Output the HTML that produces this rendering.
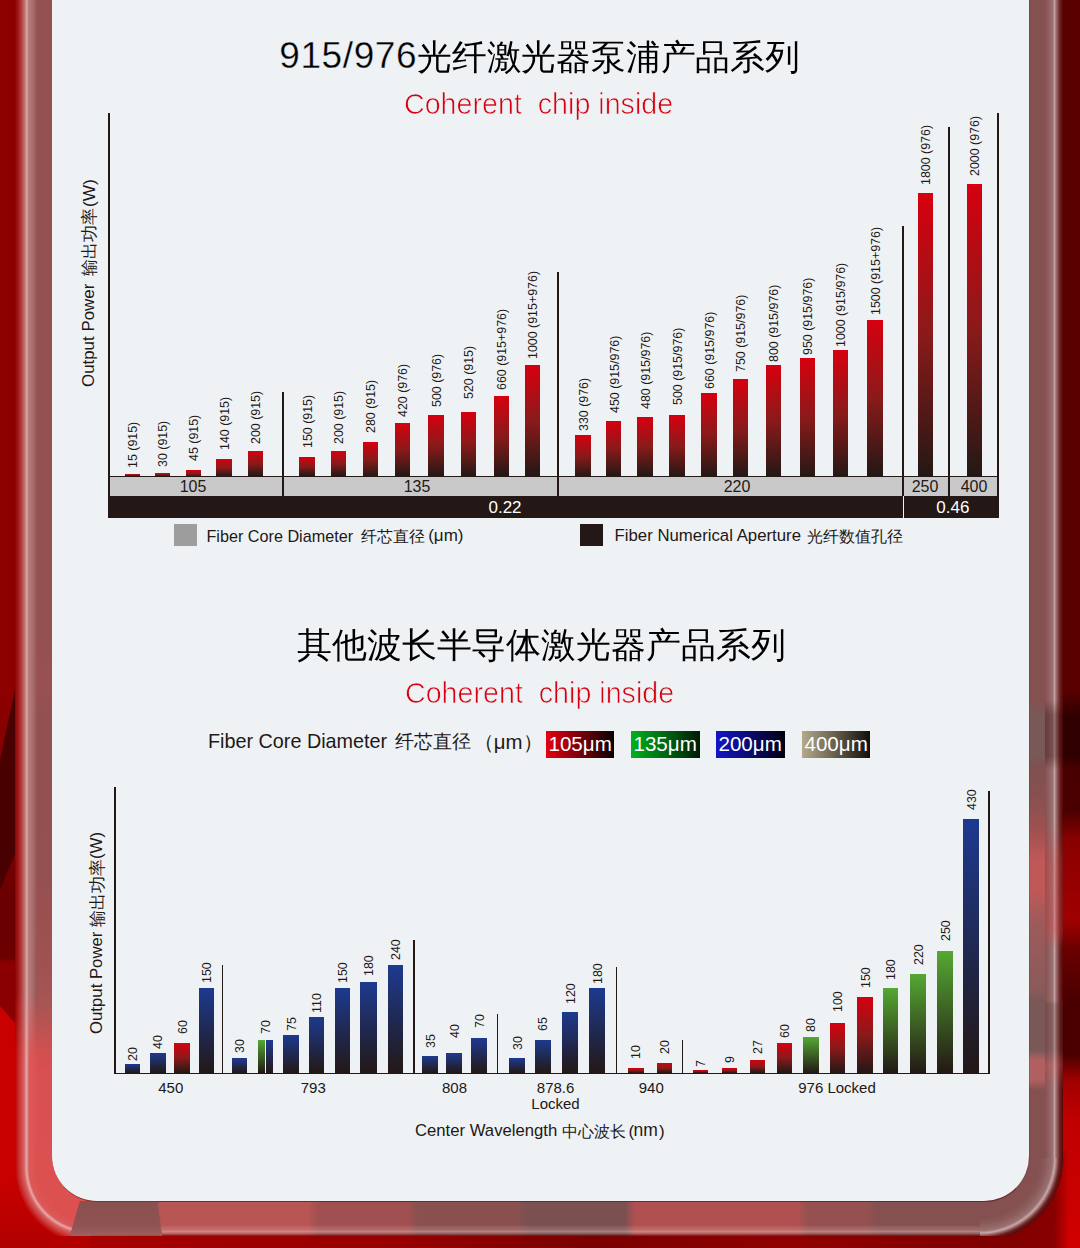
<!DOCTYPE html><html><head><meta charset="utf-8"><style>html,body{margin:0;padding:0;}body{width:1080px;height:1248px;overflow:hidden;position:relative;background:#900000;font-family:"Liberation Sans", sans-serif;}div{position:absolute;box-sizing:border-box;}.t{white-space:nowrap;}</style></head><body>
<div style="left:0;top:0;width:97px;height:1248px;background:linear-gradient(to bottom,#8c0000 0px,#8c0000 690px,#7a0000 850px,#6a0000 900px,#6a0000 958px,#8a0000 962px,#8a0000 1248px);"></div>
<div style="left:0;top:690px;width:18px;height:200px;background:#480000;clip-path:polygon(15px 0,18px 0,18px 157px,0 200px,0 70px);"></div>
<div style="left:0;top:982px;width:97px;height:266px;background:linear-gradient(to bottom,#c80000 0,#c80000 200px,#b00000 266px);clip-path:polygon(0 24px,52px 83px,97px 83px,97px 266px,0 266px);"></div>
<div style="left:979px;top:0;width:101px;height:1248px;background:linear-gradient(to bottom,#5a0000 0px,#5a0000 690px,#300000 715px,#300000 756px,#4a0000 770px,#4a0000 810px,#8a0000 840px,#a00000 920px,#6a0000 950px,#4a0000 1000px,#4a0000 1055px,#a00000 1080px,#c00000 1120px,#d00000 1248px);"></div>
<div style="left:979px;top:1150px;width:101px;height:98px;background:linear-gradient(to right,rgba(90,0,0,0.7) 0,rgba(90,0,0,0.6) 75px,rgba(90,0,0,0) 90px);"></div>
<div style="left:90px;top:1228px;width:890px;height:20px;background:linear-gradient(to right,#a80000 0px,#a00000 100px,#980000 300px,#7a0000 500px,#900000 700px,#800000 890px);"></div>
<div style="left:15px;top:0;width:22px;height:1167.5px;background:linear-gradient(to right,#900000 0,#a01818 3px,#b04848 7px,#c87878 10px,#d8a8a8 11.7px,#b88080 13.5px,#a86a6a 18px,#9a5a5a 21px,#955050 22px);"></div>
<div style="left:15px;top:990px;width:22px;height:177.5px;-webkit-mask-image:linear-gradient(to bottom,transparent 0,#000 70px);mask-image:linear-gradient(to bottom,transparent 0,#000 70px);background:linear-gradient(to right,#c00000 0,#c83030 4px,#d86060 9px,#e8a8a8 11.7px,#dc5a5a 14px,#dc5050 22px);"></div>
<div style="left:37px;top:0;width:15.5px;height:1167.5px;background:linear-gradient(to bottom,#955050 0,#955050 640px,#9a5050 680px,#935050 720px,#955050 880px,#9a5050 900px,#a05252 970px,#a85555 1005px,#d05050 1050px,#d85050 1070px,#dc5050 1167.5px);"></div>
<div style="left:1028.5px;top:0;width:17px;height:1157.5px;background:linear-gradient(to bottom,#855050 0,#855050 700px,#7a5858 715px,#7a5858 756px,#805050 765px,#855050 790px,#a05050 830px,#c05858 860px,#c05858 890px,#a05a5a 920px,#8a5a5a 990px,#7a5858 1000px,#7a5858 1050px,#b06060 1060px,#b06060 1080px,#855050 1090px,#855050 1157.5px);"></div>
<div style="left:1045px;top:0;width:17.5px;height:1157.5px;background:linear-gradient(to right,#855050 0,#9a7070 7.5px,#c0a0a0 9.5px,#9a6868 11.5px,#6a2020 15px,#5a0a0a 17.5px);"></div>
<div style="left:1045px;top:700px;width:17.5px;height:400px;background:linear-gradient(to bottom,rgba(0,0,0,0) 0,rgba(40,0,0,0.3) 15px,rgba(40,0,0,0.3) 56px,rgba(0,0,0,0) 70px,rgba(0,0,0,0) 120px,rgba(230,60,60,0.25) 160px,rgba(230,60,60,0.3) 230px,rgba(0,0,0,0) 250px,rgba(0,0,0,0) 300px,rgba(60,40,40,0.2) 305px,rgba(60,40,40,0.2) 350px,rgba(230,90,90,0.25) 365px,rgba(0,0,0,0) 390px);"></div>
<div style="left:90.7px;top:1201px;width:889.8px;height:34.5px;background:linear-gradient(to bottom,rgba(0,0,0,0) 0,rgba(0,0,0,0) 24px,rgba(255,200,200,0.12) 26px,rgba(255,210,210,0.2) 29px,rgba(255,225,225,0.35) 30.5px,rgba(255,200,200,0.12) 32.5px,rgba(60,0,0,0.5) 34.5px),linear-gradient(to right,#dc5050 0,#dc5050 12px,#8a5050 13px,#8a5050 60px,#b85555 70px,#b85555 217px,#a05050 227px,#a05050 317px,#8a5050 327px,#8a5050 427px,#7a5050 437px,#7a5050 534px,#b05050 544px,#b05050 707px,#955050 717px,#955050 777px,#855050 787px,#855050 888.8px);"></div>
<div style="left:14px;top:1167.5px;width:76.7px;height:68px;background:radial-gradient(circle at 76.7px 0,#dc5050 54px,#dc5a5a 61.7px,#e8a8a8 64px,#d86060 66.7px,#c83030 71.7px,#c00000 75.7px,rgba(192,0,0,0) 77px);"></div>
<div style="left:979.5px;top:1157.5px;width:84px;height:78px;background:radial-gradient(circle at 0 0,#855050 60px,#8a5a5a 65.5px,#9a7070 72.5px,#c8a8a8 75px,#9a6868 77px,#6a2020 79.5px,#5a0a0a 82.5px,rgba(90,10,10,0) 84px);"></div>
<div style="left:70px;top:1201px;width:92px;height:34.5px;background:linear-gradient(to bottom,#8a5050,#905252 70%,#a06060);clip-path:polygon(10px 0,87px 0,92px 34.5px,0 34.5px);"></div>
<div style="left:51.5px;top:-50px;width:978px;height:1252px;border-radius:0 0 46px 46px;border:1px solid rgba(110,30,30,0.55);border-top:none;border-right-color:rgba(110,30,30,0.1);"></div>
<div style="left:70px;top:1201px;width:92px;height:34.5px;background:linear-gradient(to bottom,#8a5050,#905252 70%,#a06060);clip-path:polygon(10px 0,87px 0,92px 34.5px,0 34.5px);"></div>
<div style="left:51.5px;top:-50px;width:978px;height:1252px;border-radius:0 0 46px 46px;border:1px solid rgba(110,30,30,0.55);border-top:none;border-right-color:rgba(110,30,30,0.1);"></div>
<div style="left:52px;top:-50px;width:977px;height:1251px;border-radius:0 0 45px 45px;background:#eef2f5;"></div>
<div class="t" style="left:279.25px;top:37.43px;font-size:37px;line-height:37px;color:#000;letter-spacing:0.6px;-webkit-text-stroke:0.35px #eef2f5;">915/976</div>
<div class="t" style="left:416.50px;top:39.12px;font-size:35px;line-height:35px;color:#000;transform:scaleX(0.994);transform-origin:0 0;">光纤激光器泵浦产品系列</div>
<div class="t" style="left:404.00px;top:89.36px;font-size:30px;line-height:30px;color:#d7000f;transform:scaleX(0.955);transform-origin:0 0;-webkit-text-stroke:0.7px #eef2f5;">Coherent&nbsp;&nbsp;chip inside</div>
<div style="left:125px;top:473.8px;width:15px;height:2.7px;background:linear-gradient(to bottom,#d7000f,#8a1a1a 50%,#231815);"></div>
<div class="t" style="left:126.37px;top:467.80px;font-size:13.5px;line-height:13.5px;color:#231815;transform-origin:0 0;transform:rotate(-90deg) scaleX(0.92);">15 (915)</div>
<div style="left:154.7px;top:472.8px;width:15.3px;height:3.7px;background:linear-gradient(to bottom,#d7000f,#8a1a1a 50%,#231815);"></div>
<div class="t" style="left:156.22px;top:466.60px;font-size:13.5px;line-height:13.5px;color:#231815;transform-origin:0 0;transform:rotate(-90deg) scaleX(0.92);">30 (915)</div>
<div style="left:185.8px;top:470px;width:15.4px;height:6.5px;background:linear-gradient(to bottom,#d7000f,#8a1a1a 50%,#231815);"></div>
<div class="t" style="left:187.37px;top:461.10px;font-size:13.5px;line-height:13.5px;color:#231815;transform-origin:0 0;transform:rotate(-90deg) scaleX(0.92);">45 (915)</div>
<div style="left:216.3px;top:458.5px;width:15.7px;height:18.0px;background:linear-gradient(to bottom,#d7000f,#8a1a1a 50%,#231815);"></div>
<div class="t" style="left:218.02px;top:449.50px;font-size:13.5px;line-height:13.5px;color:#231815;transform-origin:0 0;transform:rotate(-90deg) scaleX(0.92);">140 (915)</div>
<div style="left:248px;top:450.8px;width:15px;height:25.7px;background:linear-gradient(to bottom,#d7000f,#8a1a1a 50%,#231815);"></div>
<div class="t" style="left:249.37px;top:444.10px;font-size:13.5px;line-height:13.5px;color:#231815;transform-origin:0 0;transform:rotate(-90deg) scaleX(0.92);">200 (915)</div>
<div style="left:299.2px;top:456.7px;width:15.8px;height:19.8px;background:linear-gradient(to bottom,#d7000f,#8a1a1a 50%,#231815);"></div>
<div class="t" style="left:300.97px;top:448.30px;font-size:13.5px;line-height:13.5px;color:#231815;transform-origin:0 0;transform:rotate(-90deg) scaleX(0.92);">150 (915)</div>
<div style="left:331px;top:450.6px;width:15px;height:25.9px;background:linear-gradient(to bottom,#d7000f,#8a1a1a 50%,#231815);"></div>
<div class="t" style="left:332.37px;top:444.10px;font-size:13.5px;line-height:13.5px;color:#231815;transform-origin:0 0;transform:rotate(-90deg) scaleX(0.92);">200 (915)</div>
<div style="left:363px;top:442px;width:15px;height:34.5px;background:linear-gradient(to bottom,#d7000f,#8a1a1a 50%,#231815);"></div>
<div class="t" style="left:364.37px;top:432.50px;font-size:13.5px;line-height:13.5px;color:#231815;transform-origin:0 0;transform:rotate(-90deg) scaleX(0.92);">280 (915)</div>
<div style="left:395px;top:422.8px;width:15px;height:53.7px;background:linear-gradient(to bottom,#d7000f,#8a1a1a 50%,#231815);"></div>
<div class="t" style="left:396.37px;top:416.90px;font-size:13.5px;line-height:13.5px;color:#231815;transform-origin:0 0;transform:rotate(-90deg) scaleX(0.92);">420 (976)</div>
<div style="left:428px;top:414.7px;width:15.6px;height:61.8px;background:linear-gradient(to bottom,#d7000f,#8a1a1a 50%,#231815);"></div>
<div class="t" style="left:429.67px;top:406.60px;font-size:13.5px;line-height:13.5px;color:#231815;transform-origin:0 0;transform:rotate(-90deg) scaleX(0.92);">500 (976)</div>
<div style="left:460.5px;top:411.7px;width:15.3px;height:64.8px;background:linear-gradient(to bottom,#d7000f,#8a1a1a 50%,#231815);"></div>
<div class="t" style="left:462.02px;top:398.80px;font-size:13.5px;line-height:13.5px;color:#231815;transform-origin:0 0;transform:rotate(-90deg) scaleX(0.92);">520 (915)</div>
<div style="left:493.6px;top:395.6px;width:15.3px;height:80.9px;background:linear-gradient(to bottom,#d7000f,#8a1a1a 50%,#231815);"></div>
<div class="t" style="left:495.12px;top:390.00px;font-size:13.5px;line-height:13.5px;color:#231815;transform-origin:0 0;transform:rotate(-90deg) scaleX(0.92);">660 (915+976)</div>
<div style="left:524.7px;top:364.7px;width:15.3px;height:111.8px;background:linear-gradient(to bottom,#d7000f,#8a1a1a 50%,#231815);"></div>
<div class="t" style="left:526.22px;top:358.60px;font-size:13.5px;line-height:13.5px;color:#231815;transform-origin:0 0;transform:rotate(-90deg) scaleX(0.92);">1000 (915+976)</div>
<div style="left:575.1px;top:435px;width:15.7px;height:41.5px;background:linear-gradient(to bottom,#d7000f,#8a1a1a 50%,#231815);"></div>
<div class="t" style="left:576.82px;top:430.60px;font-size:13.5px;line-height:13.5px;color:#231815;transform-origin:0 0;transform:rotate(-90deg) scaleX(0.92);">330 (976)</div>
<div style="left:606.1px;top:420.9px;width:15.3px;height:55.6px;background:linear-gradient(to bottom,#d7000f,#8a1a1a 50%,#231815);"></div>
<div class="t" style="left:607.62px;top:412.70px;font-size:13.5px;line-height:13.5px;color:#231815;transform-origin:0 0;transform:rotate(-90deg) scaleX(0.92);">450 (915/976)</div>
<div style="left:637.1px;top:416.6px;width:15.5px;height:59.9px;background:linear-gradient(to bottom,#d7000f,#8a1a1a 50%,#231815);"></div>
<div class="t" style="left:638.72px;top:408.80px;font-size:13.5px;line-height:13.5px;color:#231815;transform-origin:0 0;transform:rotate(-90deg) scaleX(0.92);">480 (915/976)</div>
<div style="left:669.2px;top:415px;width:15.7px;height:61.5px;background:linear-gradient(to bottom,#d7000f,#8a1a1a 50%,#231815);"></div>
<div class="t" style="left:670.92px;top:404.80px;font-size:13.5px;line-height:13.5px;color:#231815;transform-origin:0 0;transform:rotate(-90deg) scaleX(0.92);">500 (915/976)</div>
<div style="left:701px;top:392.8px;width:15.7px;height:83.7px;background:linear-gradient(to bottom,#d7000f,#8a1a1a 50%,#231815);"></div>
<div class="t" style="left:702.72px;top:388.70px;font-size:13.5px;line-height:13.5px;color:#231815;transform-origin:0 0;transform:rotate(-90deg) scaleX(0.92);">660 (915/976)</div>
<div style="left:733px;top:378.9px;width:15.1px;height:97.6px;background:linear-gradient(to bottom,#d7000f,#8a1a1a 50%,#231815);"></div>
<div class="t" style="left:734.42px;top:372.20px;font-size:13.5px;line-height:13.5px;color:#231815;transform-origin:0 0;transform:rotate(-90deg) scaleX(0.92);">750 (915/976)</div>
<div style="left:766px;top:364.9px;width:15.1px;height:111.6px;background:linear-gradient(to bottom,#d7000f,#8a1a1a 50%,#231815);"></div>
<div class="t" style="left:767.42px;top:362.30px;font-size:13.5px;line-height:13.5px;color:#231815;transform-origin:0 0;transform:rotate(-90deg) scaleX(0.92);">800 (915/976)</div>
<div style="left:799.7px;top:358px;width:15.3px;height:118.5px;background:linear-gradient(to bottom,#d7000f,#8a1a1a 50%,#231815);"></div>
<div class="t" style="left:801.22px;top:354.80px;font-size:13.5px;line-height:13.5px;color:#231815;transform-origin:0 0;transform:rotate(-90deg) scaleX(0.92);">950 (915/976)</div>
<div style="left:832.9px;top:350px;width:15.1px;height:126.5px;background:linear-gradient(to bottom,#d7000f,#8a1a1a 50%,#231815);"></div>
<div class="t" style="left:834.32px;top:346.70px;font-size:13.5px;line-height:13.5px;color:#231815;transform-origin:0 0;transform:rotate(-90deg) scaleX(0.92);">1000 (915/976)</div>
<div style="left:867px;top:320.1px;width:15.6px;height:156.4px;background:linear-gradient(to bottom,#d7000f,#8a1a1a 50%,#231815);"></div>
<div class="t" style="left:868.67px;top:315.30px;font-size:13.5px;line-height:13.5px;color:#231815;transform-origin:0 0;transform:rotate(-90deg) scaleX(0.92);">1500 (915+976)</div>
<div style="left:917.9px;top:192.9px;width:15.1px;height:283.6px;background:linear-gradient(to bottom,#d7000f,#8a1a1a 50%,#231815);"></div>
<div class="t" style="left:919.32px;top:185.10px;font-size:13.5px;line-height:13.5px;color:#231815;transform-origin:0 0;transform:rotate(-90deg) scaleX(0.92);">1800 (976)</div>
<div style="left:967.1px;top:183.7px;width:14.9px;height:292.8px;background:linear-gradient(to bottom,#d7000f,#8a1a1a 50%,#231815);"></div>
<div class="t" style="left:968.42px;top:176.00px;font-size:13.5px;line-height:13.5px;color:#231815;transform-origin:0 0;transform:rotate(-90deg) scaleX(0.92);">2000 (976)</div>
<div style="left:108px;top:476.5px;width:890.5px;height:19.5px;background:#c9c9c9;"></div>
<div style="left:108px;top:496px;width:890.5px;height:21.5px;background:#231815;"></div>
<div style="left:902.6px;top:496px;width:1.2px;height:21.5px;background:#eef2f5;"></div>
<div style="left:108px;top:113px;width:2px;height:404.5px;background:#231815;"></div>
<div style="left:108px;top:475.5px;width:890px;height:1.5px;background:#231815;"></div>
<div style="left:281.5px;top:392px;width:2px;height:104px;background:#231815;"></div>
<div style="left:557.3px;top:272px;width:2px;height:224px;background:#231815;"></div>
<div style="left:902px;top:226px;width:2px;height:270px;background:#231815;"></div>
<div style="left:948px;top:126.7px;width:2px;height:369.3px;background:#231815;"></div>
<div style="left:996.8px;top:112.9px;width:2px;height:404.6px;background:#231815;"></div>
<div class="t" style="left:193px;top:478.31px;font-size:17px;line-height:17px;color:#231815;transform:translateX(-50%) scaleX(0.94);transform-origin:50% 0;">105</div>
<div class="t" style="left:416.5px;top:478.31px;font-size:17px;line-height:17px;color:#231815;transform:translateX(-50%) scaleX(0.94);transform-origin:50% 0;">135</div>
<div class="t" style="left:737px;top:478.31px;font-size:17px;line-height:17px;color:#231815;transform:translateX(-50%) scaleX(0.94);transform-origin:50% 0;">220</div>
<div class="t" style="left:925.3px;top:478.31px;font-size:17px;line-height:17px;color:#231815;transform:translateX(-50%) scaleX(0.94);transform-origin:50% 0;">250</div>
<div class="t" style="left:974.2px;top:478.31px;font-size:17px;line-height:17px;color:#231815;transform:translateX(-50%) scaleX(0.94);transform-origin:50% 0;">400</div>
<div class="t" style="left:505px;top:499.31px;font-size:17px;line-height:17px;color:#fff;transform:translateX(-50%);transform-origin:50% 0;">0.22</div>
<div class="t" style="left:952.8px;top:499.31px;font-size:17px;line-height:17px;color:#fff;transform:translateX(-50%);transform-origin:50% 0;">0.46</div>
<div class="t" style="left:80.89px;top:387.30px;font-size:16.9px;line-height:16.9px;color:#231815;transform-origin:0 0;transform:rotate(-90deg) scaleX(1.0);">Output Power</div>
<div class="t" style="left:80.64px;top:275.50px;font-size:17.2px;line-height:17.2px;color:#231815;transform-origin:0 0;transform:rotate(-90deg) scaleX(1.0);">输出功率</div>
<div class="t" style="left:80.56px;top:207.00px;font-size:17.3px;line-height:17.3px;color:#231815;transform-origin:0 0;transform:rotate(-90deg) scaleX(1.0);">(W)</div>
<div style="left:174.3px;top:523.8px;width:22.6px;height:21.9px;background:#9d9d9d;"></div>
<div class="t" style="left:206.43px;top:527.79px;font-size:16.2px;line-height:16.2px;color:#231815;">Fiber Core Diameter</div>
<div class="t" style="left:361.30px;top:527.70px;font-size:16.3px;line-height:16.3px;color:#231815;">纤芯直径</div>
<div class="t" style="left:428.18px;top:527.11px;font-size:17px;line-height:17px;color:#231815;">(μm)</div>
<div style="left:580px;top:523.7px;width:22.5px;height:22px;background:#231815;"></div>
<div class="t" style="left:614.49px;top:528.38px;font-size:16.8px;line-height:16.8px;color:#231815;">Fiber Numerical Aperture</div>
<div class="t" style="left:807.40px;top:528.40px;font-size:16.3px;line-height:16.3px;color:#231815;">光纤数值孔径</div>
<div class="t" style="left:297.10px;top:626.67px;font-size:35px;line-height:35px;color:#000;transform:scaleX(0.997);transform-origin:0 0;">其他波长半导体激光器产品系列</div>
<div class="t" style="left:405.00px;top:678.40px;font-size:30px;line-height:30px;color:#d7000f;transform:scaleX(0.955);transform-origin:0 0;-webkit-text-stroke:0.7px #eef2f5;">Coherent&nbsp;&nbsp;chip inside</div>
<div class="t" style="left:208.01px;top:732.44px;font-size:19.8px;line-height:19.8px;color:#231815;">Fiber Core Diameter</div>
<div class="t" style="left:395.30px;top:733.37px;font-size:18.7px;line-height:18.7px;color:#231815;">纤芯直径</div>
<div class="t" style="left:473.80px;top:731.93px;font-size:20.4px;line-height:20.4px;color:#231815;">（μm）</div>
<div style="left:546px;top:731px;width:68px;height:26.7px;background:linear-gradient(to right,#e60012,#0a0000);"></div>
<div class="t" style="left:548.46px;top:734.16px;font-size:20.6px;line-height:20.6px;color:#fff;">105μm</div>
<div style="left:631px;top:731px;width:69px;height:26.7px;background:linear-gradient(to right,#00b21e,#001a05);"></div>
<div class="t" style="left:633.46px;top:734.16px;font-size:20.6px;line-height:20.6px;color:#fff;">135μm</div>
<div style="left:716px;top:731px;width:68.79999999999995px;height:26.7px;background:linear-gradient(to right,#1414c8,#000010);"></div>
<div class="t" style="left:718.46px;top:734.16px;font-size:20.6px;line-height:20.6px;color:#fff;">200μm</div>
<div style="left:802px;top:731px;width:68px;height:26.7px;background:linear-gradient(to right,#b4ab8c,#120e0a);"></div>
<div class="t" style="left:804.46px;top:734.16px;font-size:20.6px;line-height:20.6px;color:#fff;">400μm</div>
<div style="left:124.8px;top:1064.4px;width:15.2px;height:8.8px;background:linear-gradient(to bottom,#1d3a90,#231815);"></div>
<div class="t" style="left:125.97px;top:1060.80px;font-size:13.5px;line-height:13.5px;color:#231815;transform-origin:0 0;transform:rotate(-90deg) scaleX(0.92);">20</div>
<div style="left:149.8px;top:1052.6px;width:15.8px;height:20.6px;background:linear-gradient(to bottom,#1d3a90,#231815);"></div>
<div class="t" style="left:151.27px;top:1049.10px;font-size:13.5px;line-height:13.5px;color:#231815;transform-origin:0 0;transform:rotate(-90deg) scaleX(0.92);">40</div>
<div style="left:174.3px;top:1042.8px;width:15.7px;height:30.4px;background:linear-gradient(to bottom,#d7000f,#8a1a1a 50%,#231815);"></div>
<div class="t" style="left:175.72px;top:1034.30px;font-size:13.5px;line-height:13.5px;color:#231815;transform-origin:0 0;transform:rotate(-90deg) scaleX(0.92);">60</div>
<div style="left:198.5px;top:987.8px;width:15.5px;height:85.4px;background:linear-gradient(to bottom,#1d3a90,#231815);"></div>
<div class="t" style="left:199.82px;top:982.50px;font-size:13.5px;line-height:13.5px;color:#231815;transform-origin:0 0;transform:rotate(-90deg) scaleX(0.92);">150</div>
<div style="left:231.9px;top:1057.8px;width:15.1px;height:15.4px;background:linear-gradient(to bottom,#1d3a90,#231815);"></div>
<div class="t" style="left:233.02px;top:1053.40px;font-size:13.5px;line-height:13.5px;color:#231815;transform-origin:0 0;transform:rotate(-90deg) scaleX(0.92);">30</div>
<div style="left:283.1px;top:1034.8px;width:15.8px;height:38.4px;background:linear-gradient(to bottom,#1d3a90,#231815);"></div>
<div class="t" style="left:284.57px;top:1030.60px;font-size:13.5px;line-height:13.5px;color:#231815;transform-origin:0 0;transform:rotate(-90deg) scaleX(0.92);">75</div>
<div style="left:308.9px;top:1017.2px;width:15.5px;height:56.0px;background:linear-gradient(to bottom,#1d3a90,#231815);"></div>
<div class="t" style="left:310.22px;top:1012.50px;font-size:13.5px;line-height:13.5px;color:#231815;transform-origin:0 0;transform:rotate(-90deg) scaleX(0.92);">110</div>
<div style="left:334.6px;top:988px;width:15.4px;height:85.2px;background:linear-gradient(to bottom,#1d3a90,#231815);"></div>
<div class="t" style="left:335.87px;top:982.80px;font-size:13.5px;line-height:13.5px;color:#231815;transform-origin:0 0;transform:rotate(-90deg) scaleX(0.92);">150</div>
<div style="left:360.2px;top:982px;width:16.7px;height:91.2px;background:linear-gradient(to bottom,#1d3a90,#231815);"></div>
<div class="t" style="left:362.12px;top:976.00px;font-size:13.5px;line-height:13.5px;color:#231815;transform-origin:0 0;transform:rotate(-90deg) scaleX(0.92);">180</div>
<div style="left:388.1px;top:964.8px;width:15.0px;height:108.4px;background:linear-gradient(to bottom,#1d3a90,#231815);"></div>
<div class="t" style="left:389.17px;top:959.70px;font-size:13.5px;line-height:13.5px;color:#231815;transform-origin:0 0;transform:rotate(-90deg) scaleX(0.92);">240</div>
<div style="left:422.2px;top:1055.7px;width:15.8px;height:17.5px;background:linear-gradient(to bottom,#1d3a90,#231815);"></div>
<div class="t" style="left:423.67px;top:1047.70px;font-size:13.5px;line-height:13.5px;color:#231815;transform-origin:0 0;transform:rotate(-90deg) scaleX(0.92);">35</div>
<div style="left:446.3px;top:1052.8px;width:15.7px;height:20.4px;background:linear-gradient(to bottom,#1d3a90,#231815);"></div>
<div class="t" style="left:447.72px;top:1038.40px;font-size:13.5px;line-height:13.5px;color:#231815;transform-origin:0 0;transform:rotate(-90deg) scaleX(0.92);">40</div>
<div style="left:471.3px;top:1037.8px;width:15.4px;height:35.4px;background:linear-gradient(to bottom,#1d3a90,#231815);"></div>
<div class="t" style="left:472.57px;top:1027.80px;font-size:13.5px;line-height:13.5px;color:#231815;transform-origin:0 0;transform:rotate(-90deg) scaleX(0.92);">70</div>
<div style="left:509.1px;top:1057.8px;width:15.7px;height:15.4px;background:linear-gradient(to bottom,#1d3a90,#231815);"></div>
<div class="t" style="left:510.52px;top:1050.20px;font-size:13.5px;line-height:13.5px;color:#231815;transform-origin:0 0;transform:rotate(-90deg) scaleX(0.92);">30</div>
<div style="left:535px;top:1040.2px;width:15.6px;height:33.0px;background:linear-gradient(to bottom,#1d3a90,#231815);"></div>
<div class="t" style="left:536.37px;top:1031.40px;font-size:13.5px;line-height:13.5px;color:#231815;transform-origin:0 0;transform:rotate(-90deg) scaleX(0.92);">65</div>
<div style="left:562.2px;top:1012px;width:15.8px;height:61.2px;background:linear-gradient(to bottom,#1d3a90,#231815);"></div>
<div class="t" style="left:563.67px;top:1003.60px;font-size:13.5px;line-height:13.5px;color:#231815;transform-origin:0 0;transform:rotate(-90deg) scaleX(0.92);">120</div>
<div style="left:589.4px;top:988px;width:15.8px;height:85.2px;background:linear-gradient(to bottom,#1d3a90,#231815);"></div>
<div class="t" style="left:590.87px;top:983.80px;font-size:13.5px;line-height:13.5px;color:#231815;transform-origin:0 0;transform:rotate(-90deg) scaleX(0.92);">180</div>
<div style="left:628px;top:1067.8px;width:15.7px;height:5.4px;background:linear-gradient(to bottom,#d7000f,#8a1a1a 50%,#231815);"></div>
<div class="t" style="left:629.42px;top:1058.60px;font-size:13.5px;line-height:13.5px;color:#231815;transform-origin:0 0;transform:rotate(-90deg) scaleX(0.92);">10</div>
<div style="left:657px;top:1062.8px;width:15.4px;height:10.4px;background:linear-gradient(to bottom,#d7000f,#8a1a1a 50%,#231815);"></div>
<div class="t" style="left:658.27px;top:1053.60px;font-size:13.5px;line-height:13.5px;color:#231815;transform-origin:0 0;transform:rotate(-90deg) scaleX(0.92);">20</div>
<div style="left:692.8px;top:1069.6px;width:15.5px;height:3.6px;background:linear-gradient(to bottom,#d7000f,#8a1a1a 50%,#231815);"></div>
<div class="t" style="left:694.12px;top:1067.10px;font-size:13.5px;line-height:13.5px;color:#231815;transform-origin:0 0;transform:rotate(-90deg) scaleX(0.92);">7</div>
<div style="left:721.5px;top:1068.1px;width:15.5px;height:5.1px;background:linear-gradient(to bottom,#d7000f,#8a1a1a 50%,#231815);"></div>
<div class="t" style="left:722.82px;top:1062.50px;font-size:13.5px;line-height:13.5px;color:#231815;transform-origin:0 0;transform:rotate(-90deg) scaleX(0.92);">9</div>
<div style="left:750px;top:1059.6px;width:15.4px;height:13.6px;background:linear-gradient(to bottom,#d7000f,#8a1a1a 50%,#231815);"></div>
<div class="t" style="left:751.27px;top:1053.80px;font-size:13.5px;line-height:13.5px;color:#231815;transform-origin:0 0;transform:rotate(-90deg) scaleX(0.92);">27</div>
<div style="left:776.9px;top:1042.8px;width:15.3px;height:30.4px;background:linear-gradient(to bottom,#d7000f,#8a1a1a 50%,#231815);"></div>
<div class="t" style="left:778.12px;top:1037.50px;font-size:13.5px;line-height:13.5px;color:#231815;transform-origin:0 0;transform:rotate(-90deg) scaleX(0.92);">60</div>
<div style="left:803px;top:1037px;width:15.7px;height:36.2px;background:linear-gradient(to bottom,#55a832,#231815);"></div>
<div class="t" style="left:804.42px;top:1031.50px;font-size:13.5px;line-height:13.5px;color:#231815;transform-origin:0 0;transform:rotate(-90deg) scaleX(0.92);">80</div>
<div style="left:829.8px;top:1022.8px;width:15.4px;height:50.4px;background:linear-gradient(to bottom,#d7000f,#8a1a1a 50%,#231815);"></div>
<div class="t" style="left:831.07px;top:1011.50px;font-size:13.5px;line-height:13.5px;color:#231815;transform-origin:0 0;transform:rotate(-90deg) scaleX(0.92);">100</div>
<div style="left:856.8px;top:996.8px;width:16.4px;height:76.4px;background:linear-gradient(to bottom,#d7000f,#8a1a1a 50%,#231815);"></div>
<div class="t" style="left:858.57px;top:987.50px;font-size:13.5px;line-height:13.5px;color:#231815;transform-origin:0 0;transform:rotate(-90deg) scaleX(0.92);">150</div>
<div style="left:882.8px;top:987.8px;width:15.6px;height:85.4px;background:linear-gradient(to bottom,#55a832,#231815);"></div>
<div class="t" style="left:884.17px;top:979.70px;font-size:13.5px;line-height:13.5px;color:#231815;transform-origin:0 0;transform:rotate(-90deg) scaleX(0.92);">180</div>
<div style="left:910.1px;top:973.6px;width:15.9px;height:99.6px;background:linear-gradient(to bottom,#55a832,#231815);"></div>
<div class="t" style="left:911.62px;top:964.60px;font-size:13.5px;line-height:13.5px;color:#231815;transform-origin:0 0;transform:rotate(-90deg) scaleX(0.92);">220</div>
<div style="left:937.3px;top:951px;width:15.6px;height:122.2px;background:linear-gradient(to bottom,#55a832,#231815);"></div>
<div class="t" style="left:938.67px;top:941.30px;font-size:13.5px;line-height:13.5px;color:#231815;transform-origin:0 0;transform:rotate(-90deg) scaleX(0.92);">250</div>
<div style="left:963.2px;top:818.9px;width:15.7px;height:254.3px;background:linear-gradient(to bottom,#1d3a90,#231815);"></div>
<div class="t" style="left:964.62px;top:809.60px;font-size:13.5px;line-height:13.5px;color:#231815;transform-origin:0 0;transform:rotate(-90deg) scaleX(0.92);">430</div>
<div style="left:257.6px;top:1040px;width:7.6px;height:33.200000000000045px;background:linear-gradient(to bottom,#55a832,#231815);"></div>
<div style="left:265.9px;top:1040px;width:7.1px;height:33.200000000000045px;background:linear-gradient(to bottom,#1d3a90,#231815);"></div>
<div class="t" style="left:258.87px;top:1034.30px;font-size:13.5px;line-height:13.5px;color:#231815;transform-origin:0 0;transform:rotate(-90deg) scaleX(0.92);">70</div>
<div style="left:114px;top:786.8px;width:2px;height:287.6px;background:#231815;"></div>
<div style="left:114px;top:1072.8px;width:876px;height:1.6px;background:#231815;"></div>
<div style="left:988.2px;top:790.8px;width:2px;height:283.6px;background:#231815;"></div>
<div style="left:221.7px;top:964.6px;width:1.8px;height:109.39999999999998px;background:#231815;"></div>
<div style="left:413.1px;top:940.4px;width:1.8px;height:133.60000000000002px;background:#231815;"></div>
<div style="left:496.70000000000005px;top:1013.9px;width:1.8px;height:60.10000000000002px;background:#231815;"></div>
<div style="left:615.7px;top:967px;width:1.8px;height:107px;background:#231815;"></div>
<div style="left:681.5px;top:1040px;width:1.8px;height:34px;background:#231815;"></div>
<div class="t" style="left:170.8px;top:1079.70px;font-size:15px;line-height:15px;color:#231815;transform:translateX(-50%);transform-origin:50% 0;">450</div>
<div class="t" style="left:313.3px;top:1079.70px;font-size:15px;line-height:15px;color:#231815;transform:translateX(-50%);transform-origin:50% 0;">793</div>
<div class="t" style="left:454.5px;top:1079.70px;font-size:15px;line-height:15px;color:#231815;transform:translateX(-50%);transform-origin:50% 0;">808</div>
<div class="t" style="left:555.6px;top:1079.70px;font-size:15px;line-height:15px;color:#231815;transform:translateX(-50%);transform-origin:50% 0;">878.6</div>
<div class="t" style="left:651.3px;top:1079.70px;font-size:15px;line-height:15px;color:#231815;transform:translateX(-50%);transform-origin:50% 0;">940</div>
<div class="t" style="left:837px;top:1079.70px;font-size:15px;line-height:15px;color:#231815;transform:translateX(-50%);transform-origin:50% 0;">976 Locked</div>
<div class="t" style="left:555.5px;top:1096.20px;font-size:15px;line-height:15px;color:#231815;transform:translateX(-50%);transform-origin:50% 0;">Locked</div>
<div class="t" style="left:415.00px;top:1122.96px;font-size:16.7px;line-height:16.7px;color:#231815;">Center Wavelength</div>
<div class="t" style="left:561.50px;top:1123.22px;font-size:16.4px;line-height:16.4px;color:#231815;">中心波长</div>
<div class="t" style="left:628.50px;top:1122.71px;font-size:17px;line-height:17px;color:#231815;">(</div>
<div class="t" style="left:633.60px;top:1122.29px;font-size:17.5px;line-height:17.5px;color:#231815;">nm</div>
<div class="t" style="left:658.90px;top:1122.71px;font-size:17px;line-height:17px;color:#231815;">)</div>
<div class="t" style="left:88.82px;top:1034.00px;font-size:16.75px;line-height:16.75px;color:#231815;transform-origin:0 0;transform:rotate(-90deg) scaleX(1.0);">Output Power</div>
<div class="t" style="left:89.03px;top:926.50px;font-size:16.5px;line-height:16.5px;color:#231815;transform-origin:0 0;transform:rotate(-90deg) scaleX(1.0);">输出功率</div>
<div class="t" style="left:88.69px;top:859.30px;font-size:16.9px;line-height:16.9px;color:#231815;transform-origin:0 0;transform:rotate(-90deg) scaleX(1.0);">(W)</div>
</body></html>
